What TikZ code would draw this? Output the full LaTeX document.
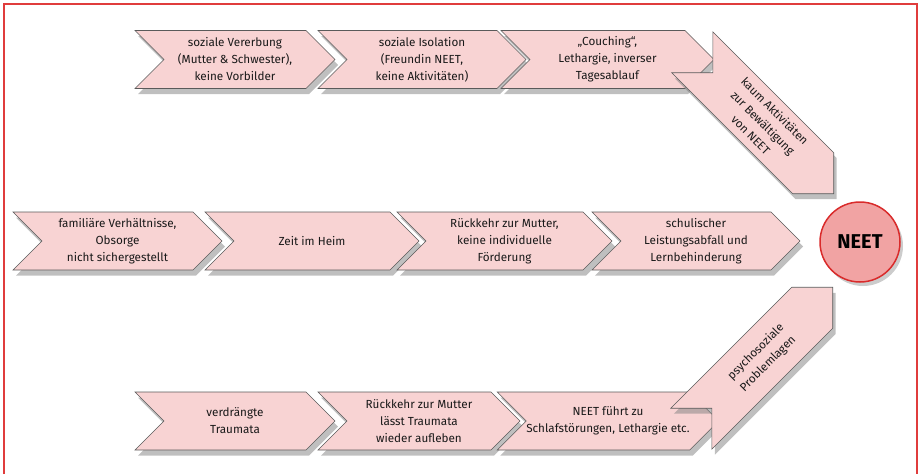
\documentclass[tikz,border=0pt]{standalone}
\usepackage{fontspec}
\setmainfont{Fira Sans}
\usetikzlibrary{shapes.symbols,shadows}
\definecolor{chevfill}{HTML}{F8D3D3}
\definecolor{chevline}{HTML}{5A5A5A}
\definecolor{framered}{HTML}{E03C3C}
\definecolor{neetfill}{HTML}{F1A3A3}
\definecolor{neetline}{HTML}{D92B2B}

\begin{document}
\begin{tikzpicture}[x=1pt, y=-1pt,
        chev/.style={signal, signal from=west, signal to=east, signal pointer angle=90,
            draw=chevline, fill=chevfill, line width=0.6pt, minimum height=58pt,
            inner sep=0pt, align=center, text=black!90, font=\fontsize{11.7}{17}\selectfont,
            drop shadow={shadow xshift=3pt, shadow yshift=-5.5pt, opacity=0.5}},
        goal/.style={circle, draw=neetline, fill=neetfill, line width=1.5pt, minimum size=80pt,
            inner sep=0pt, font=\fontsize{20}{20}\selectfont\bfseries,
            drop shadow={shadow xshift=3pt, shadow yshift=-4pt, opacity=0.4}}
    ]
        \useasboundingbox (0,0) rectangle (921,474);
        \draw[framered, line width=1.3pt] (4,474) -- (4,4) -- (917,4) -- (917,474);

        \node[chev, minimum width=200pt] (t1) at (235,59.5) {soziale Vererbung\\(Mutter \& Schwester),\\keine Vorbilder};
        \node[chev, minimum width=208pt] (t2) at (422,59.5) {soziale Isolation\\(Freundin NEET,\\keine Aktivitäten)};
        \node[chev, minimum width=213pt] (t3) at (607.5,59.5) {„Couching“,\\Lethargie, inverser\\Tagesablauf};
        \node[chev, minimum width=200pt, rotate=-45] (td) at (763,123) {kaum Aktivitäten\\zur Bewältigung\\von NEET};

        \node[chev, minimum width=209pt] (m1) at (117.5,241) {familiäre Verhältnisse,\\Obsorge\\nicht sichergestellt};
        \node[chev, minimum width=214pt] (m2) at (312,241) {Zeit im Heim};
        \node[chev, minimum width=215pt] (m3) at (504.5,241) {Rückkehr zur Mutter,\\keine individuelle\\Förderung};
        \node[chev, minimum width=208pt] (m4) at (696,241) {schulischer\\Leistungsabfall und\\Lernbehinderung};
        \node[goal] (neet) at (860,242) {NEET};

        \node[chev, minimum width=200pt] (b1) at (235,421) {verdrängte\\Traumata};
        \node[chev, minimum width=202pt] (b2) at (419,421) {Rückkehr zur Mutter\\lässt Traumata\\wieder aufleben};
        \node[chev, minimum width=216pt] (b3) at (608,421) {NEET führt zu\\Schlafstörungen, Lethargie etc.};
        \node[chev, minimum width=200pt, rotate=45] (bd) at (762,358) {psychosoziale\\Problemlagen};
    \end{tikzpicture}
\end{document}
